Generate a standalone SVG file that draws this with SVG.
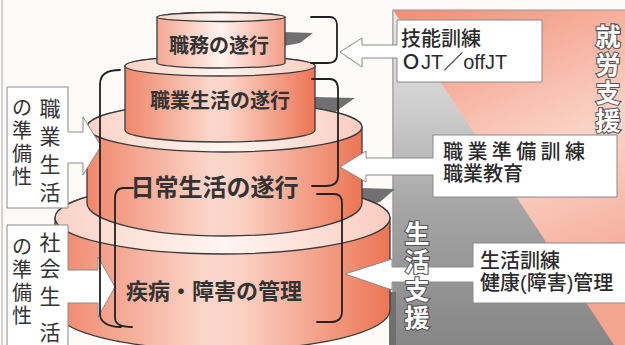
<svg xmlns="http://www.w3.org/2000/svg" width="625" height="345" viewBox="0 0 625 345">
<defs>
<linearGradient id="gBody" x1="0" y1="0" x2="1" y2="0">
<stop offset="0" stop-color="#f0876b"/>
<stop offset="0.45" stop-color="#fbd6ca"/>
<stop offset="0.55" stop-color="#fbd2c5"/>
<stop offset="1" stop-color="#ec7554"/>
</linearGradient>
<linearGradient id="gBodyL" x1="0" y1="0" x2="1" y2="0">
<stop offset="0" stop-color="#f4a893"/>
<stop offset="0.5" stop-color="#fff3ee"/>
<stop offset="1" stop-color="#f29d86"/>
</linearGradient>
<linearGradient id="gTop" x1="0" y1="0" x2="1" y2="0">
<stop offset="0" stop-color="#fad3c6"/>
<stop offset="0.5" stop-color="#fff5f1"/>
<stop offset="1" stop-color="#f9cdbf"/>
</linearGradient>
<linearGradient id="gSalmon" x1="0" y1="0" x2="0.3" y2="1">
<stop offset="0" stop-color="#f28d74"/>
<stop offset="0.55" stop-color="#fad4c8"/>
<stop offset="1" stop-color="#f4a590"/>
</linearGradient>
<linearGradient id="gGray" x1="0" y1="0" x2="0" y2="1">
<stop offset="0" stop-color="#e8e8e8"/>
<stop offset="0.3" stop-color="#cdcdcd"/>
<stop offset="0.6" stop-color="#a4a4a4"/>
<stop offset="1" stop-color="#868686"/>
</linearGradient>
</defs>
<style>
.cyl{stroke:#3a3a3a;stroke-width:1.3}
.tt{font-family:"Noto Sans CJK JP","Noto Sans CJK SC",sans-serif;fill:#333;font-weight:bold;text-anchor:middle}
.box{fill:#fff;stroke:#8a8a8a;stroke-width:1}
.lbl{font-family:"Liberation Sans","Noto Sans CJK JP","Noto Sans CJK SC",sans-serif;fill:#2b2b2b;font-size:20px;font-weight:500}
.lt{font-family:"Liberation Sans","Noto Sans CJK JP","Noto Sans CJK SC",sans-serif;fill:#333;text-anchor:middle}
.r{font-size:21px}
.l{font-size:20px}
.vt{font-family:"Liberation Sans","Noto Sans CJK JP","Noto Sans CJK SC",sans-serif;font-size:25px;font-weight:bold;fill:#fff;stroke:#555;stroke-width:2.2;paint-order:stroke;text-anchor:middle}
.br{fill:none;stroke:#222;stroke-width:1.8;stroke-linecap:round}
.sh{fill:#707070}
</style>
<rect width="625" height="345" fill="#fdfbf7"/>
<line x1="2" y1="0" x2="2" y2="345" stroke="#aaa" stroke-width="1"/>

<g id="panel">
<rect x="393" y="10" width="240" height="340" fill="url(#gSalmon)" stroke="#999" stroke-width="1"/>
<polygon points="393,10 614,345 393,345" fill="url(#gGray)"/>
<line x1="393" y1="10" x2="393" y2="345" stroke="#999" stroke-width="1"/>
</g>

<g id="shadows">
<polygon class="sh" points="283,32 313,33 300,43 284,46"/>
<polygon class="sh" points="315,97 355,98 335,112 315,115"/>
<polygon class="sh" points="361,188 395,189 380,202 361,207"/>
<rect class="sh" x="389" y="292" width="7" height="53"/>
</g>

<g id="tier4">
<path class="cyl" fill="url(#gBody)" d="M55,218 V310 A167.5,40 0 0 0 390,310 V218 A167.5,36 0 0 0 55,218 Z"/>
<ellipse class="cyl" fill="url(#gTop)" cx="222.5" cy="218" rx="167.5" ry="36"/>
<text class="tt" x="214" y="299" font-size="22">疾病・障害の管理</text>
</g>

<g id="tier3">
<path class="cyl" fill="url(#gBody)" d="M87,127 V203 A137.5,33 0 0 0 362,203 V127 A137.5,25 0 0 0 87,127 Z"/>
<ellipse class="cyl" fill="url(#gTop)" cx="224.5" cy="127" rx="137.5" ry="25"/>
<text class="tt" x="214.5" y="196" font-size="24">日常生活の遂行</text>
</g>

<g id="tier2">
<path class="cyl" fill="url(#gBody)" d="M125,66 V130 A95,12 0 0 0 315,130 V66 A95,10 0 0 0 125,66 Z"/>
<ellipse class="cyl" fill="url(#gTop)" cx="220" cy="66" rx="95" ry="10"/>
<text class="tt" x="220" y="107.5" font-size="20">職業生活の遂行</text>
</g>

<g id="tier1">
<path class="cyl" fill="url(#gBodyL)" d="M157,17 V63 A64,5 0 0 0 285,63 V17 A64,4.5 0 0 0 157,17 Z"/>
<ellipse class="cyl" fill="url(#gTop)" cx="221" cy="17" rx="64" ry="4.5"/>
<text class="tt" x="219" y="52.5" font-size="20">職務の遂行</text>
</g>

<g id="box-job-life">
<path class="box" d="M7,87 H68 V132 H83 V117 L101,146 L83,175 V163 H68 V208 H7 Z"/>
<text class="lt r" x="50" y="116">職</text>
<text class="lt r" x="50" y="144">業</text>
<text class="lt r" x="50" y="172">生</text>
<text class="lt r" x="50" y="200">活</text>
<text class="lt l" x="22" y="114.6">の</text>
<text class="lt l" x="22" y="137.6">準</text>
<text class="lt l" x="22" y="160.6">備</text>
<text class="lt l" x="22" y="183.6">性</text>
</g>

<g id="box-social-life">
<path class="box" d="M7,225 H68 V270 H98 V257 L115,287 L98,317 V303 H68 V350 H7 Z"/>
<text class="lt r" x="50" y="250">社</text>
<text class="lt r" x="50" y="276">会</text>
<text class="lt r" x="50" y="304">生</text>
<text class="lt r" x="50" y="340">活</text>
<text class="lt l" x="22" y="253.6">の</text>
<text class="lt l" x="22" y="276.6">準</text>
<text class="lt l" x="22" y="299.6">備</text>
<text class="lt l" x="22" y="322.6">性</text>
</g>

<g id="box-skill">
<path class="box" d="M397,20 H542 V82 H397 V58 H362 V67 L340,52 L362,38 V45 H397 Z"/>
<text class="lbl" x="401" y="46">技能訓練</text>
<text class="lbl" x="401" y="69" font-weight="bold">ＯJT／offJT</text>
</g>

<g id="box-prep">
<path class="box" d="M433,135 H617 V197 H433 V175 H366 V182 L340,167 L366,151 V158 H433 Z"/>
<text class="lbl" x="443" y="158.5" letter-spacing="4.4">職業準備訓練</text>
<text class="lbl" x="443" y="181">職業教育</text>
</g>

<g id="box-life">
<path class="box" d="M473,243 H630 V303 H473 V282 H392 V290 L345,274 L392,259 V267 H473 Z"/>
<text class="lbl" x="480" y="267.5">生活訓練</text>
<text class="lbl" x="480" y="290">健康(障害)管理</text>
</g>

<g id="connectors">
<path class="br" d="M120,70 C108,70 100,74 100,84 V314 C100,322 108,327 121,327"/>
<path class="br" d="M133,188 H124 C118,188 115,192 115,198 V318 C115,324 120,327 132,327"/>
<path class="br" d="M311,17 H330 C334,17 337,20 337,25 V55 C337,60 334,63 328,63 H311"/>
<path class="br" d="M312,79 H330 C335,79 338,83 338,90 V176 C338,182 334,186 326,186 H312"/>
<path class="br" d="M317,194 H334 C339,194 342,197 342,203 V312 C342,318 338,322 332,322 H317"/>
</g>

<g id="support-labels">
<text class="vt" x="608" y="45.5">就</text>
<text class="vt" x="608" y="73.5">労</text>
<text class="vt" x="608" y="101.5">支</text>
<text class="vt" x="608" y="129.5">援</text>
<text class="vt" x="417" y="242.5">生</text>
<text class="vt" x="417" y="270.5">活</text>
<text class="vt" x="417" y="298.5">支</text>
<text class="vt" x="417" y="326.5">援</text>
</g>
</svg>
